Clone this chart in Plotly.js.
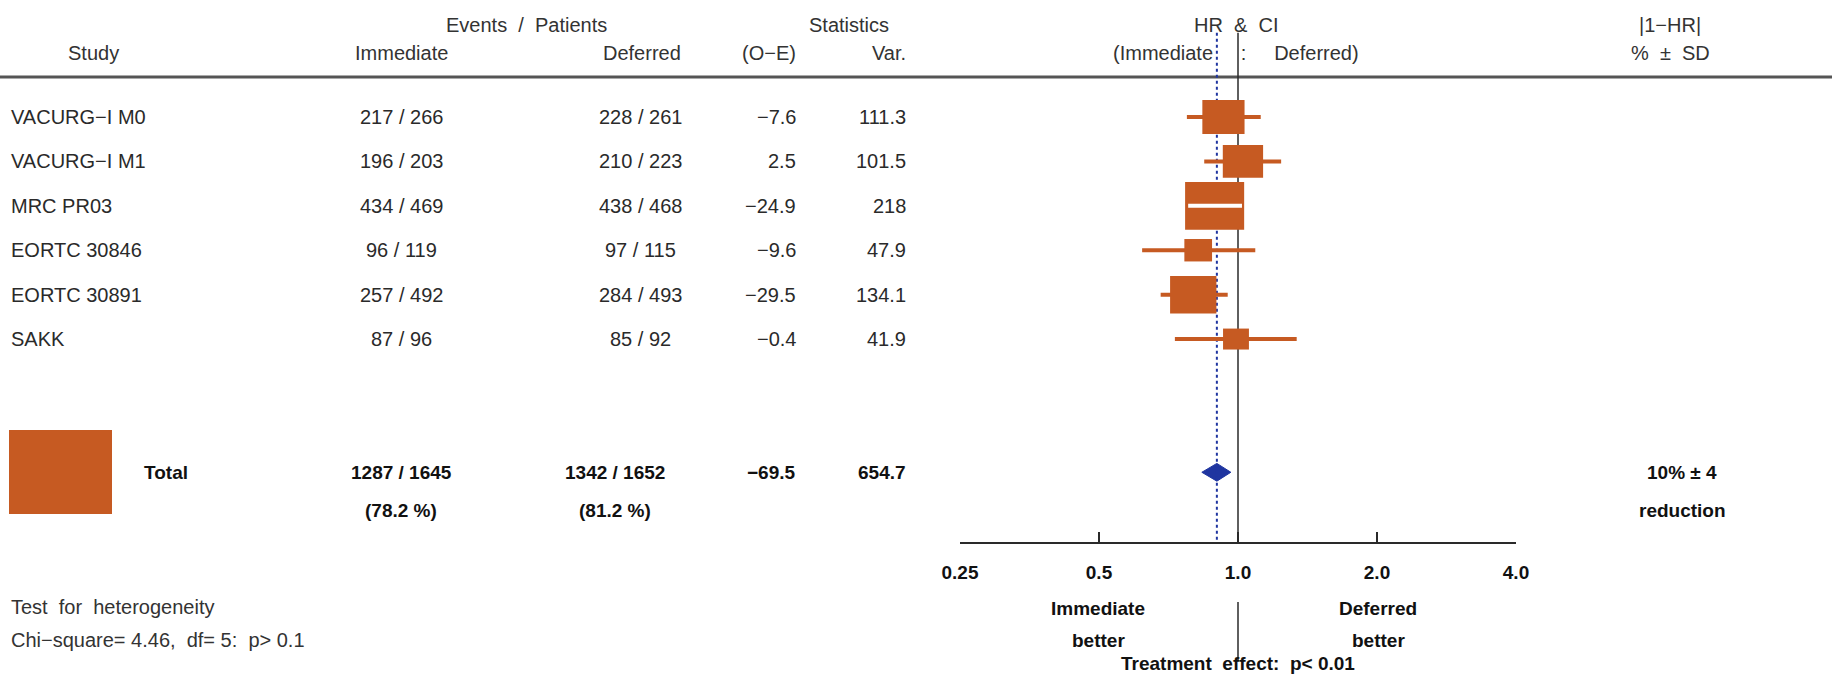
<!DOCTYPE html>
<html>
<head>
<meta charset="utf-8">
<script src="https://cdn.plot.ly/plotly-3.0.1.min.js"></script>
<style>body{margin:0;background:#fff}#plot{width:1832px;height:687px}</style>
</head>
<body>
<div id="plot"></div>
<script>
// study data
const studies   = ['VACURG\u2212I M0', 'VACURG\u2212I M1', 'MRC PR03', 'EORTC 30846', 'EORTC 30891', 'SAKK'];
const immediate = ['217 / 266', '196 / 203', '434 / 469', '96 / 119', '257 / 492', '87 / 96'];
const deferred  = ['228 / 261', '210 / 223', '438 / 468', '97 / 115', '284 / 493', '85 / 92'];
const oMinusE   = ['\u22127.6', '2.5', '\u221224.9', '\u22129.6', '\u221229.5', '\u22120.4'];
const variance  = [111.3, 101.5, 218, 47.9, 134.1, 41.9];
const hr        = [0.93, 1.025, 0.89, 0.82, 0.80, 0.99];
const ciLow     = [0.775, 0.845, 0.78, 0.62, 0.68, 0.73];
const ciHigh    = [1.12, 1.24, 1.02, 1.09, 0.95, 1.34];

const totalHR = 0.90, totalLow = 0.835, totalHigh = 0.965, totalVar = 654.7;

const W = 1832, H = 687;
const orange = '#c65a22', blue = '#1f35a0', ink = '#2a2a2a';
const rows = studies.map((s, i) => i + 1);
const totalRow = 9;
const pxPerDoubling = 139, pxPerRow = 44.4;

function px(x) { return x / W; }

let shapes = [];
let ann = [];

// header rule
shapes.push({type: 'line', xref: 'paper', yref: 'paper', x0: 0, x1: 1, y0: 1 - 77 / H, y1: 1 - 77 / H,
  line: {color: '#555', width: 3}});
// reference lines
shapes.push({type: 'line', xref: 'x', yref: 'y', x0: 1, x1: 1, y0: -0.9, y1: 10.57, line: {color: ink, width: 1.5}});
shapes.push({type: 'line', xref: 'x', yref: 'y', x0: totalHR, x1: totalHR, y0: -0.9, y1: 10.57,
  line: {color: blue, width: 2, dash: 'dot'}});
shapes.push({type: 'line', xref: 'x', yref: 'paper', x0: 1, x1: 1, y0: 1 - 602 / H, y1: 1 - 660 / H,
  line: {color: ink, width: 1.5}});

const f = {family: 'Liberation Sans, Arial', size: 20, color: ink};
rows.forEach((r, i) => {
  const hw = 2 * Math.sqrt(variance[i]), hh = 1.62 * Math.sqrt(variance[i]);
  const bx0 = hr[i] * Math.pow(2, -hw / pxPerDoubling), bx1 = hr[i] * Math.pow(2, hw / pxPerDoubling);
  shapes.push({type: 'line', xref: 'x', yref: 'y', x0: ciLow[i], x1: ciHigh[i], y0: r, y1: r,
    line: {color: orange, width: 4}});
  shapes.push({type: 'rect', xref: 'x', yref: 'y', x0: bx0, x1: bx1, y0: r - hh / pxPerRow, y1: r + hh / pxPerRow,
    fillcolor: orange, line: {width: 0}});
  // CI shown in white when it lies inside the box
  if (ciLow[i] > bx0 && ciHigh[i] < bx1) {
    shapes.push({type: 'line', xref: 'x', yref: 'y', x0: ciLow[i], x1: ciHigh[i], y0: r, y1: r,
      line: {color: '#fff', width: 4}});
  }
  ann.push({x: px(9), y: r, text: studies[i], xanchor: 'left', font: f});
  ann.push({x: px(401), y: r, text: immediate[i], xanchor: 'center', font: f});
  ann.push({x: px(640), y: r, text: deferred[i], xanchor: 'center', font: f});
  ann.push({x: px(798), y: r, text: oMinusE[i], xanchor: 'right', font: f});
  ann.push({x: px(908), y: r, text: String(variance[i]), xanchor: 'right', font: f});
});

// total legend box
shapes.push({type: 'rect', xref: 'paper', yref: 'paper', x0: px(9), x1: px(112), y0: 1 - 430 / H, y1: 1 - 514 / H,
  fillcolor: orange, line: {width: 0}});

const fb = {family: 'Liberation Sans, Arial', size: 19, color: '#111', weight: 'bold'};
const fh = {family: 'Liberation Sans, Arial', size: 20, color: '#333'};
ann.push({x: px(142), y: totalRow, text: '<b>Total</b>', xanchor: 'left', font: fb});
ann.push({x: px(401), y: totalRow, text: '<b>1287 / 1645</b>', font: fb});
ann.push({x: px(615), y: totalRow, text: '<b>1342 / 1652</b>', font: fb});
ann.push({x: px(798), y: totalRow, text: '<b>\u221269.5</b>', xanchor: 'right', font: fb});
ann.push({x: px(908), y: totalRow, text: '<b>' + totalVar + '</b>', xanchor: 'right', font: fb});
ann.push({x: px(401), y: 9.85, text: '<b>(78.2 %)</b>', font: fb});
ann.push({x: px(615), y: 9.85, text: '<b>(81.2 %)</b>', font: fb});
ann.push({x: px(1682), y: totalRow, text: '<b>10% \u00b1 4</b>', font: fb});
ann.push({x: px(1682), y: 9.85, text: '<b>reduction</b>', font: fb});

function headText(x, y, text, anchor, font) {
  ann.push({x: px(x), y: 1 - y / H, yref: 'paper', text: text, xanchor: anchor || 'center', font: font || fh});
}
headText(526, 12, 'Events  /  Patients');
headText(93, 40, 'Study');
headText(401, 40, 'Immediate');
headText(683, 40, 'Deferred', 'right');
headText(798, 40, '(O\u2212E)', 'right');
headText(908, 40, 'Var.', 'right');
headText(849, 12, 'Statistics');
headText(1236, 12, 'HR  &  CI');
headText(1236, 40, '(Immediate&nbsp;&nbsp;&nbsp;&nbsp;&nbsp;:&nbsp;&nbsp;&nbsp;&nbsp;&nbsp;Deferred)');
headText(1670, 12, '|1\u2212HR|');
headText(1670, 40, '%  \u00b1  SD');
headText(9, 620, 'Test  for  heterogeneity', 'left');
headText(9, 653, 'Chi\u2212square= 4.46,  df= 5:  p> 0.1', 'left');
headText(1098, 621, '<b>Immediate</b>', 'center', fb);
headText(1098, 653, '<b>better</b>', 'center', fb);
headText(1378, 621, '<b>Deferred</b>', 'center', fb);
headText(1378, 653, '<b>better</b>', 'center', fb);
headText(1238, 676, '<b>Treatment  effect:  p< 0.01</b>', 'center', fb);

ann.forEach(a => { a.xref = 'paper'; if (!a.yref) a.yref = 'y'; a.showarrow = false; if (!a.xanchor) a.xanchor = 'center'; });

// total diamond as a filled trace
const diamond = {
  x: [totalLow, totalHR, totalHigh, totalHR, totalLow],
  y: [totalRow, totalRow - 0.2, totalRow, totalRow + 0.2, totalRow],
  mode: 'lines', fill: 'toself', fillcolor: blue, line: {color: blue, width: 1}, hoverinfo: 'skip'
};

const layout = {
  width: W, height: H,
  margin: {l: 0, r: 0, t: 0, b: 0},
  paper_bgcolor: '#fff', plot_bgcolor: '#fff',
  showlegend: false,
  xaxis: {type: 'log', range: [Math.log10(0.25), Math.log10(4)], domain: [960 / W, 1516 / W],
    tickvals: [0.25, 0.5, 1, 2, 4], ticktext: ['<b>0.25</b>', '<b>0.5</b>', '<b>1.0</b>', '<b>2.0</b>', '<b>4.0</b>'],
    ticks: 'inside', ticklen: 10, tickwidth: 2, tickcolor: ink, showline: true, linecolor: ink, linewidth: 2,
    ticklabelstandoff: 12,
    showgrid: false, zeroline: false, tickfont: {family: 'Liberation Sans, Arial', size: 19, color: '#111'},
    fixedrange: true},
  yaxis: {range: [10.57, -1.635], domain: [(H - 542) / H, 1], visible: false, showgrid: false, zeroline: false},
  shapes: shapes,
  annotations: ann
};

Plotly.newPlot('plot', [diamond], layout, {displayModeBar: false, staticPlot: true});
</script>
</body>
</html>
